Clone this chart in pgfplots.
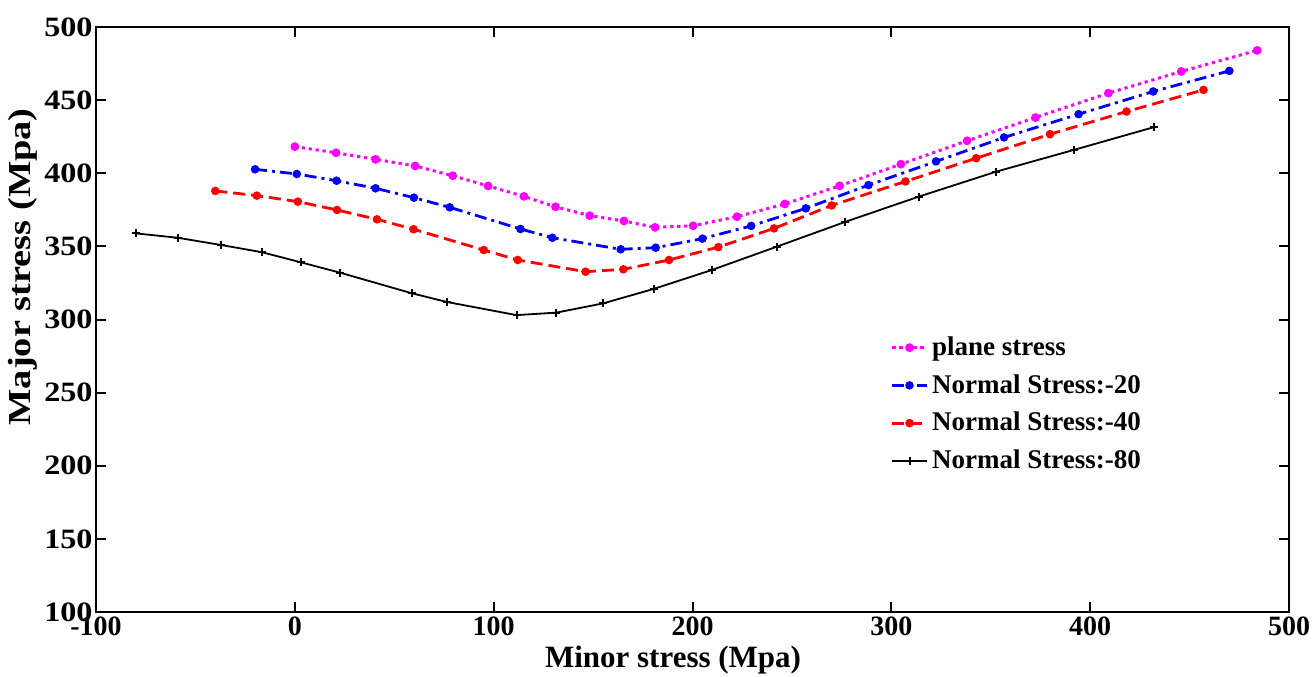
\documentclass[border=0pt]{standalone}
\usepackage{fontspec}
\setmainfont{Liberation Serif}
\usepackage{graphicx}
\usepackage{pgfplots}
\pgfplotsset{compat=1.18}
\definecolor{mag}{rgb}{1,0,1}
\begin{document}
\begin{tikzpicture}
\begin{axis}[
  name=ax,
  scale only axis,
  width=596.5pt, height=292.5pt,
  xmin=-100, xmax=500, ymin=100, ymax=500,
  xtick={-100,0,100,200,300,400,500},
  ytick={100,150,200,250,300,350,400,450,500},
  tick align=inside,
  xtick pos=both, ytick pos=both,
  major tick length=5pt,
  every tick/.style={black, line width=1pt},
  axis line style={line width=1.2pt},
  /pgf/number format/assume math mode=true,
  ticklabel style={font=\bfseries\fontsize{14}{14}\selectfont},
  yticklabel={\scalebox{1.15}[1]{\pgfmathprintnumber{\tick}}},
  yticklabel style={inner sep=1.5pt},
  xticklabel style={inner sep=2pt},
  xlabel={Minor stress (Mpa)},
  ylabel={\scalebox{1.2}[1]{Major stress (Mpa)}},
  xlabel style={font=\bfseries\fontsize{15.5}{15.5}\selectfont, at={(axis description cs:0.4837,-0.082)}, anchor=center},
  ylabel style={font=\bfseries\fontsize{16}{16}\selectfont, at={(axis description cs:-0.0612,0.59)}, anchor=center},
  legend style={draw=none, fill=none, at={(axis description cs:0.666,0.478)}, anchor=north west,
    font=\bfseries\fontsize{13.5}{13.5}\selectfont, row sep=4pt, inner sep=0pt},
  legend cell align=left,
]
\addplot[mag, line width=1.5pt, dash pattern=on 1.6pt off 1.9pt, mark=*, mark size=1.4pt, mark options={solid}] coordinates {
(0,418.2) (20.7,414) (40.6,409.5) (60.5,405) (79.4,398.3) (97.2,391.3) (115.2,384.2)
(131.1,377.1) (148.3,371) (165.5,367.4) (181.2,363) (200.3,364.1) (222.4,370.3)
(246.4,379) (274,391.4) (304.8,406.2) (338.1,422.2) (372.5,438.1) (409.2,454.8)
(445.8,469.6) (484,484)
};
\addlegendentry{plane stress}
\addplot[blue, line width=1.4pt, dash pattern=on 6pt off 2.5pt on 1.5pt off 2.5pt, mark=*, mark size=1.4pt, mark options={solid}] coordinates {
(-20,402.7) (1,399.5) (21,394.9) (40.6,389.7) (59.9,383.3) (77.9,376.7) (113.5,361.9)
(129.5,355.9) (163.9,348) (181.5,349.1) (205,355.3) (229.5,364) (257,376)
(288.5,391.9) (322.5,408.1) (356.7,424.5) (394.2,440.4) (431.7,455.9) (470,470)
};
\addlegendentry{Normal Stress:-20}
\addplot[red, line width=1.4pt, dash pattern=on 6pt off 3pt, mark=*, mark size=1.4pt, mark options={solid}] coordinates {
(-40,387.9) (-19.1,384.7) (1.5,380.6) (21.2,374.9) (41.3,368.5) (59.7,361.7) (95,347.5)
(112.1,340.7) (146.2,332.7) (165.2,334.3) (188.2,340.7) (213,349.5) (241,362.3)
(270,378) (307.1,394.4) (342.7,410.3) (379.8,426.7) (418.3,442.2) (457,457)
};
\addlegendentry{Normal Stress:-40}
\addplot[black, line width=0.9pt, mark=+, mark size=2pt, mark options={line width=1pt}] coordinates {
(-80,358.9) (-59,355.9) (-37.3,351) (-16.5,346) (3.3,339) (22.8,332) (58.7,318)
(76.4,312) (111.5,303) (131.5,304.7) (155,311) (180.7,321) (209.6,333.8)
(242.4,349.8) (276.9,366.8) (314,384.1) (352.5,401) (391.9,416) (432,431.5)
};
\addlegendentry{Normal Stress:-80}
\end{axis}
\pgfresetboundingbox
\useasboundingbox ([xshift=-48pt,yshift=-32pt]ax.south west) rectangle ([xshift=13.5pt,yshift=13.5pt]ax.north east);
\end{tikzpicture}
\end{document}
